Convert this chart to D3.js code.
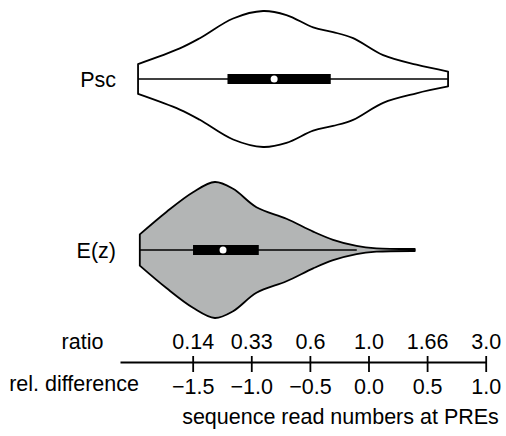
<!DOCTYPE html>
<html>
<head>
<meta charset="utf-8">
<script src="https://cdn.jsdelivr.net/npm/d3@7"></script>
<style>
  body { margin: 0; background: #fff; }
  text { font-family: "Liberation Sans", Arial, sans-serif; font-size: 21.5px; fill: #000; }
</style>
</head>
<body>
<div class="content-container"></div>
<script>
// groups, top to bottom
const groups = ["Psc", "E(z)"];
const fills = ["#ffffff", "#b3b5b5"];

// density outline (rel. difference, relative density)
const pscValues  = [-1.966, -1.61, -1.439, -1.155, -0.899, -0.70, -0.472, -0.302, -0.131, 0.125, 0.409, 0.679];
const pscDensity = [0.22, 0.45, 0.60, 0.89, 1.00, 0.94, 0.76, 0.69, 0.60, 0.35, 0.21, 0.11];
const ezValues   = [-1.951, -1.724, -1.497, -1.311, -1.155, -0.956, -0.70, -0.472, -0.302, -0.102, 0.068, 0.395];
const ezDensity  = [0.23, 0.56, 0.85, 1.00, 0.90, 0.63, 0.46, 0.27, 0.15, 0.06, 0.025, 0.015];

// box stats: [whisker low, q1, median, q3, whisker high]
const pscBox = [-1.966, -1.203, -0.805, -0.322, 0.679];
const ezBox  = [-1.951, -1.497, -1.241, -0.936, -0.10];

// axis ticks
const relTicks = [-1.5, -1.0, -0.5, 0.0, 0.5, 1.0];
const ratioLabels = ["0.14", "0.33", "0.6", "1.0", "1.66", "3.0"];

const width = 506;
const height = 436;
const fontSize = "21.5px";

const violins = [
  { name: groups[0], fill: fills[0], values: pscValues, density: pscDensity, box: pscBox },
  { name: groups[1], fill: fills[1], values: ezValues, density: ezDensity, box: ezBox }
];

const xScale = d3.scaleLinear().domain([-2.12, 1.0]).range([120, 485.7]);
const yScale = d3.scalePoint().domain(groups).range([79, 250]);
const wScale = d3.scaleLinear().domain([0, 1]).range([0, 68]);

const chart = d3.select(".content-container")
  .append("svg")
  .attr("width", width)
  .attr("height", height);

//VIOLINS

violins.forEach(function (v) {
  const cy = yScale(v.name);
  const pts = v.values.map((val, i) => ({ v: val, d: v.density[i] }));

  const area = d3.area()
    .x(d => xScale(d.v))
    .y0(d => cy + wScale(d.d))
    .y1(d => cy - wScale(d.d))
    .curve(d3.curveCatmullRom);

  const g = chart.append("g");

  g.append("path")
    .attr("d", area(pts))
    .attr("fill", v.fill)
    .attr("stroke", "#000")
    .attr("stroke-width", 1.8)
    .attr("stroke-linejoin", "round");

  // whisker
  g.append("line")
    .attr("x1", xScale(v.box[0]))
    .attr("x2", xScale(v.box[4]))
    .attr("y1", cy).attr("y2", cy)
    .attr("stroke", "#000")
    .attr("stroke-width", 1.4);

  // box
  g.append("rect")
    .attr("x", xScale(v.box[1]))
    .attr("width", xScale(v.box[3]) - xScale(v.box[1]))
    .attr("y", cy - 5)
    .attr("height", 10)
    .attr("fill", "#000");

  // median
  g.append("circle")
    .attr("cx", xScale(v.box[2]))
    .attr("cy", cy)
    .attr("r", 3.5)
    .attr("fill", "#fff");

  g.append("text")
    .attr("x", 116)
    .attr("y", cy + 8)
    .attr("text-anchor", "end")
    .text(v.name);
});

//AXIS

const axisY = 362;

const relAxis = d3.axisBottom(xScale)
  .tickValues(relTicks)
  .tickSizeOuter(0)
  .tickSizeInner(16)
  .tickPadding(0)
  .tickFormat(d => d3.format(".1f")(d).replace("-", "\u2212"));

const axisG = chart.append("g")
  .attr("transform", "translate(0," + axisY + ")")
  .call(relAxis);

axisG.select(".domain").attr("stroke-width", 1.8);
axisG.selectAll(".tick line")
  .attr("y1", -6).attr("y2", 10)
  .attr("stroke-width", 1.8);
axisG.selectAll(".tick text")
  .attr("y", 32)
  .attr("dy", 0)
  .style("font-size", fontSize)
  .style("font-family", "'Liberation Sans', Arial, sans-serif");

const ratioAxis = d3.axisTop(xScale)
  .tickValues(relTicks)
  .tickSize(0)
  .tickPadding(0)
  .tickFormat((d, i) => ratioLabels[i]);

const ratioG = chart.append("g")
  .attr("transform", "translate(0," + axisY + ")")
  .call(ratioAxis);

ratioG.select(".domain").remove();
ratioG.selectAll(".tick text")
  .attr("y", -13.5)
  .attr("dy", 0)
  .style("font-size", fontSize)
  .style("font-family", "'Liberation Sans', Arial, sans-serif");

chart.append("text")
  .attr("x", 82.5)
  .attr("y", 348.5)
  .attr("text-anchor", "middle")
  .text("ratio");

chart.append("text")
  .attr("x", 139)
  .attr("y", 391)
  .attr("text-anchor", "end")
  .text("rel. difference");

chart.append("text")
  .attr("x", 340.5)
  .attr("y", 424)
  .attr("text-anchor", "middle")
  .text("sequence read numbers at PREs");
</script>
</body>
</html>
